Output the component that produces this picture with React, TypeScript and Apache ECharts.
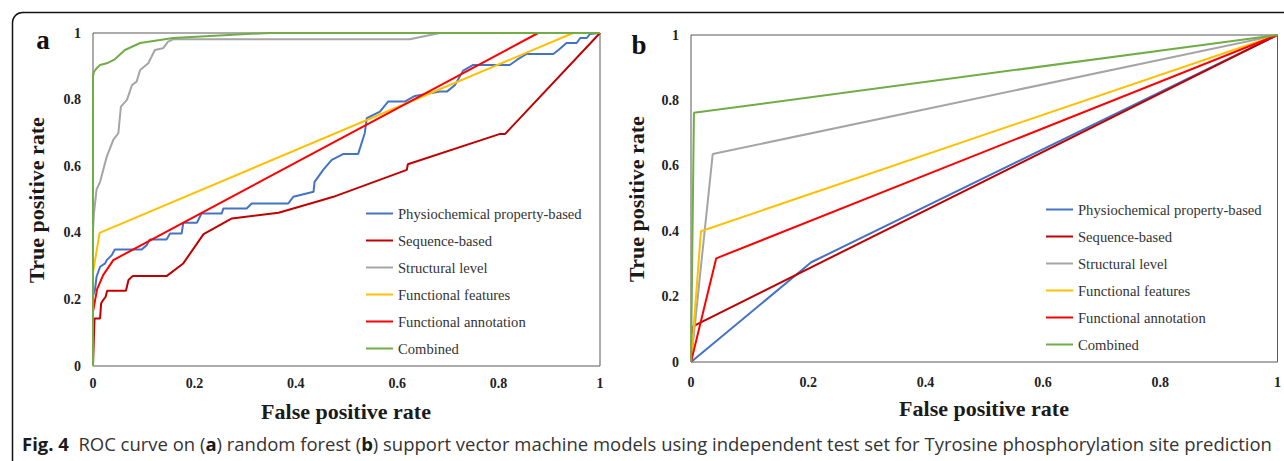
import React, { useEffect, useRef } from "react";
import * as echarts from "echarts";

const SERIES_NAMES = [
  "Physiochemical property-based",
  "Sequence-based",
  "Structural level",
  "Functional features",
  "Functional annotation",
  "Combined",
];
const SERIES_COLORS = ["#4472C4", "#C00000", "#A5A5A5", "#FFC000", "#FF0000", "#70AD47"];

const X_TICKS = [0, 0.2, 0.4, 0.6, 0.8, 1];
const Y_TICKS = [0, 0.2, 0.4, 0.6, 0.8, 1];

// Panel a: random forest
const rfPhysio = [
  [0, 0], [0, 0.21], [0.004, 0.23], [0.007, 0.268], [0.014, 0.298], [0.024, 0.308], [0.027, 0.318],
  [0.037, 0.333], [0.043, 0.35], [0.096, 0.35], [0.106, 0.363], [0.112, 0.38], [0.145, 0.38],
  [0.152, 0.398], [0.175, 0.398], [0.178, 0.43], [0.205, 0.43], [0.214, 0.458], [0.254, 0.458],
  [0.257, 0.473], [0.303, 0.473], [0.313, 0.488], [0.385, 0.488], [0.395, 0.508], [0.435, 0.523],
  [0.437, 0.553], [0.454, 0.589], [0.471, 0.619], [0.494, 0.637], [0.523, 0.637], [0.536, 0.699],
  [0.54, 0.744], [0.566, 0.764], [0.582, 0.794], [0.615, 0.794], [0.635, 0.811], [0.684, 0.824],
  [0.698, 0.824], [0.714, 0.844], [0.73, 0.887], [0.75, 0.904], [0.822, 0.904], [0.836, 0.919],
  [0.855, 0.937], [0.908, 0.937], [0.918, 0.949], [0.934, 0.97], [0.954, 0.97], [0.961, 0.985],
  [0.974, 0.985], [0.98, 0.997], [1, 1],
];
const rfSequence = [
  [0, 0], [0.003, 0.143], [0.014, 0.143], [0.016, 0.188], [0.02, 0.198], [0.025, 0.208],
  [0.028, 0.226], [0.065, 0.226], [0.07, 0.258], [0.078, 0.27], [0.145, 0.27], [0.178, 0.308],
  [0.218, 0.396], [0.274, 0.443], [0.366, 0.46], [0.451, 0.498], [0.474, 0.508], [0.619, 0.589],
  [0.621, 0.606], [0.803, 0.697], [0.813, 0.697], [1, 1],
];
const rfStructural = [
  [0, 0], [0, 0.41], [0.002, 0.46], [0.007, 0.53], [0.014, 0.553], [0.027, 0.628], [0.04, 0.679],
  [0.05, 0.699], [0.055, 0.779], [0.067, 0.799], [0.077, 0.844], [0.086, 0.854], [0.093, 0.889],
  [0.109, 0.909], [0.122, 0.949], [0.138, 0.954], [0.148, 0.974], [0.158, 0.981], [0.625, 0.981],
  [0.684, 1], [1, 1],
];
const rfFeatures = [[0, 0], [0, 0.28], [0.013, 0.4], [0.947, 1], [1, 1]];
const rfAnnotation = [[0, 0], [0, 0.163], [0.008, 0.23], [0.02, 0.273], [0.04, 0.318], [0.878, 1], [1, 1]];
const rfCombined = [
  [0, 0], [0, 0.87], [0.002, 0.884], [0.007, 0.894], [0.014, 0.904], [0.027, 0.909], [0.043, 0.921],
  [0.063, 0.949], [0.093, 0.97], [0.158, 0.985], [0.303, 0.997], [0.35, 1], [1, 1],
];

// Panel b: support vector machine
const svmPhysio = [[0, 0], [0.205, 0.305], [1, 1]];
const svmSequence = [[0, 0], [0.004, 0.11], [1, 1]];
const svmStructural = [[0, 0], [0.037, 0.636], [1, 1]];
const svmFeatures = [[0, 0], [0.017, 0.4], [1, 1]];
const svmAnnotation = [[0, 0], [0.043, 0.317], [1, 1]];
const svmCombined = [[0, 0], [0.005, 0.762], [1, 1]];

const RF_DATA = [rfPhysio, rfSequence, rfStructural, rfFeatures, rfAnnotation, rfCombined];
const SVM_DATA = [svmPhysio, svmSequence, svmStructural, svmFeatures, svmAnnotation, svmCombined];

// Caption pieces: [text, bold]
const CAPTION_PARTS: [string, boolean][] = [
  ["Fig. 4", true],
  ["  ROC curve on (", false],
  ["a", true],
  [") random forest (", false],
  ["b", true],
  [") support vector machine models using independent test set for Tyrosine phosphorylation site prediction", false],
];

const SERIF = "'Liberation Serif', 'Times New Roman', serif";
const SANS = "'Open Sans', 'Noto Sans', sans-serif";

function captionFontSize(target: number): number {
  try {
    const ctx = document.createElement("canvas").getContext("2d");
    if (!ctx) return 18.5;
    let w = 0;
    CAPTION_PARTS.forEach(([t, b]) => {
      ctx.font = `${b ? "bold " : ""}20px ${SANS}`;
      w += ctx.measureText(t).width;
    });
    if (!w) return 18.5;
    return Math.min(19, (20 * target) / w);
  } catch (e) {
    return 18.5;
  }
}

export default function App() {
  const ref = useRef<HTMLDivElement>(null);

  useEffect(() => {
    if (!ref.current) return;
    const chart = echarts.init(ref.current, null, { renderer: "svg" });

    const tickLabel = {
      fontFamily: SERIF,
      fontWeight: "bold" as const,
      fontSize: 14,
      color: "#222",
    };

    const makeX = (gridIndex: number, margin: number) => ({
      type: "value",
      gridIndex,
      min: 0,
      max: 1,
      interval: 0.2,
      axisLine: { show: false },
      axisTick: { show: false },
      splitLine: { show: false },
      axisLabel: { ...tickLabel, margin, formatter: (v: number) => (X_TICKS.includes(+v.toFixed(1)) ? String(+v.toFixed(1)) : "") },
    });
    const makeY = (gridIndex: number) => ({
      type: "value",
      gridIndex,
      min: 0,
      max: 1,
      interval: 0.2,
      axisLine: { show: false },
      axisTick: { show: false },
      splitLine: { show: false },
      axisLabel: { ...tickLabel, margin: 12, formatter: (v: number) => (Y_TICKS.includes(+v.toFixed(1)) ? String(+v.toFixed(1)) : "") },
    });

    const series: any[] = [];
    RF_DATA.forEach((d, i) =>
      series.push({
        name: SERIES_NAMES[i],
        type: "line",
        xAxisIndex: 0,
        yAxisIndex: 0,
        data: d,
        symbol: "none",
        lineStyle: { color: SERIES_COLORS[i], width: 2 },
        itemStyle: { color: SERIES_COLORS[i] },
      })
    );
    SVM_DATA.forEach((d, i) =>
      series.push({
        name: SERIES_NAMES[i],
        type: "line",
        xAxisIndex: 1,
        yAxisIndex: 1,
        data: d,
        symbol: "none",
        lineStyle: { color: SERIES_COLORS[i], width: 2 },
        itemStyle: { color: SERIES_COLORS[i] },
      })
    );

    const legendBase = {
      orient: "vertical",
      icon: "rect",
      itemWidth: 27,
      itemHeight: 2,
      itemGap: 12,
      selectedMode: false,
      data: SERIES_NAMES,
      textStyle: { fontFamily: SERIF, fontSize: 14.6, color: "#333", lineHeight: 14 },
    };

    const titleStyle = {
      fontFamily: SERIF,
      fontWeight: "bold",
      fontSize: 22,
      fill: "#1a1a1a",
      textAlign: "center",
      textVerticalAlign: "middle",
    };

    const capFs = captionFontSize(1250);
    const capText = CAPTION_PARTS.map(([t, b]) => `{${b ? "b" : "r"}|${t}}`).join("");

    chart.setOption({
      animation: false,
      backgroundColor: "#fff",
      grid: [
        { left: 93, top: 33, width: 507, height: 333, show: true, borderColor: "#595959", borderWidth: 1, backgroundColor: "transparent" },
        { left: 691, top: 35, width: 587, height: 327, show: true, borderColor: "#595959", borderWidth: 1, backgroundColor: "transparent" },
      ],
      xAxis: [makeX(0, 10), makeX(1, 13)],
      yAxis: [makeY(0), makeY(1)],
      legend: [
        { ...legendBase, left: 361, top: 201 },
        { ...legendBase, left: 1041, top: 197 },
      ],
      series,
      graphic: [
        {
          type: "rect",
          shape: { x: 12.5, y: 12.5, width: 1400, height: 600, r: 10 },
          style: { fill: "none", stroke: "#111", lineWidth: 1.5 },
          silent: true,
          z: -1,
        },
        { type: "text", x: 43, y: 40, style: { text: "a", fontFamily: SERIF, fontWeight: "bold", fontSize: 27, fill: "#111", textAlign: "center", textVerticalAlign: "middle" } },
        { type: "text", x: 639, y: 45, style: { text: "b", fontFamily: SERIF, fontWeight: "bold", fontSize: 27, fill: "#111", textAlign: "center", textVerticalAlign: "middle" } },
        { type: "text", x: 346, y: 411, style: { ...titleStyle, text: "False positive rate" } },
        { type: "text", x: 984, y: 408, style: { ...titleStyle, text: "False positive rate" } },
        { type: "text", x: 36, y: 200, rotation: Math.PI / 2, style: { ...titleStyle, text: "True positive rate" } },
        { type: "text", x: 636, y: 199, rotation: Math.PI / 2, style: { ...titleStyle, text: "True positive rate" } },
        {
          type: "text",
          x: 22,
          y: 443,
          style: {
            text: capText,
            textVerticalAlign: "middle",
            rich: {
              b: { fontFamily: SANS, fontWeight: "bold", fontSize: capFs, fill: "#1a1a1a" },
              r: { fontFamily: SANS, fontSize: capFs, fill: "#333" },
            },
          },
        },
      ],
    });

    return () => chart.dispose();
  }, []);

  return <div ref={ref} style={{ position: "fixed", left: 0, top: 0, width: 1284, height: 461 }} />;
}
